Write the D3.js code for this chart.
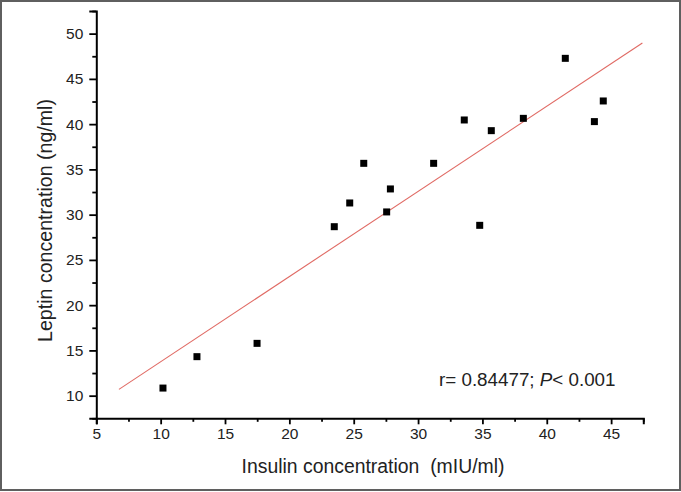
<!DOCTYPE html>
<html>
<head>
<meta charset="utf-8">
<script src="https://cdn.jsdelivr.net/npm/d3@7"></script>
<style>
html,body{margin:0;padding:0;background:#fff;}
svg{display:block;font-family:"Liberation Sans",Arial,sans-serif;}
</style>
</head>
<body>
<svg id="chart" width="681" height="492"></svg>
<script>
// Data
const insulin = [10.18, 12.82, 17.49, 23.49, 24.69, 25.78, 27.56, 27.85, 31.21, 33.59, 34.79, 35.69, 38.18, 41.44, 43.70, 44.39];
const leptin  = [10.84, 14.31, 15.78, 28.67, 31.29, 35.67, 30.30, 32.84, 35.67, 40.46, 28.82, 39.28, 40.64, 47.27, 40.28, 42.56];
const fitX = [6.76, 47.43];
const fitY = [10.70, 48.97];
const xTicks = [5, 10, 15, 20, 25, 30, 35, 40, 45];
const xMinor = [7.5, 12.5, 17.5, 22.5, 27.5, 32.5, 37.5, 42.5, 47.5];
const yTicks = [10, 15, 20, 25, 30, 35, 40, 45, 50];
const yMinor = [7.5, 12.5, 17.5, 22.5, 27.5, 32.5, 37.5, 42.5, 47.5, 52.5];
const xTitle = "Insulin concentration\u00a0\u00a0(mIU/ml)";
const yTitle = "Leptin concentration (ng/ml)";

const svg = d3.select("#chart");
const W = 681, H = 492;

// outer frame
svg.append("rect").attr("x", 1).attr("y", 1).attr("width", W - 2).attr("height", H - 3)
  .attr("fill", "#fff").attr("stroke", "#5f5f5f").attr("stroke-width", 2);

const x0 = 96.3, x1 = 643.3, y0 = 418.3, y1 = 11;
const x = d3.scaleLinear().domain([5, 47.5]).range([x0, x1]);
const y = d3.scaleLinear().domain([7.5, 52.5]).range([y0, y1]);

// regression line
svg.append("line")
  .attr("x1", x(fitX[0])).attr("y1", y(fitY[0]))
  .attr("x2", x(fitX[1])).attr("y2", y(fitY[1]))
  .attr("stroke", "#e06a64").attr("stroke-width", 1.1);

// points
const ms = 7;
svg.append("g").selectAll("rect").data(insulin.map((d, i) => [d, leptin[i]]))
  .join("rect")
  .attr("x", d => x(d[0]) - ms / 2).attr("y", d => y(d[1]) - ms / 2)
  .attr("width", ms).attr("height", ms).attr("fill", "#000");

// x axis
const gx = svg.append("g").attr("transform", `translate(0,${y0})`);
gx.call(d3.axisBottom(x).tickValues(xTicks).tickSize(6).tickPadding(4).tickFormat(d3.format("d")));
const gxm = svg.append("g").attr("transform", `translate(0,${y0})`);
gxm.call(d3.axisBottom(x).tickValues(xMinor).tickSize(3.5).tickFormat(""));
gxm.select(".domain").remove();

// y axis
const gy = svg.append("g").attr("transform", `translate(${x0},0)`);
gy.call(d3.axisLeft(y).tickValues(yTicks).tickSize(7).tickPadding(6).tickFormat(d3.format("d")));
const gym = svg.append("g").attr("transform", `translate(${x0},0)`);
gym.call(d3.axisLeft(y).tickValues(yMinor).tickSize(4).tickFormat(""));
gym.select(".domain").remove();

svg.selectAll(".domain").attr("stroke", "#000").attr("stroke-width", 2);
svg.selectAll(".tick line").attr("stroke", "#000").attr("stroke-width", 1.8);
svg.selectAll(".tick text").attr("font-size", 15.5).attr("fill", "#222")
  .attr("font-family", "'Liberation Sans', Arial, sans-serif");

// titles
svg.append("text").attr("x", 373).attr("y", 473)
  .attr("text-anchor", "middle").attr("font-size", 19.4).attr("fill", "#222")
  .text(xTitle);
svg.append("text").attr("transform", "translate(52,220.5) rotate(-90)")
  .attr("text-anchor", "middle").attr("font-size", 19.6).attr("fill", "#222")
  .text(yTitle);

// annotation
const ann = svg.append("text").attr("x", 439).attr("y", 386).attr("font-size", 18.8).attr("fill", "#222");
ann.append("tspan").text("r= 0.84477; ");
ann.append("tspan").attr("font-style", "italic").text("P");
ann.append("tspan").text("< 0.001");
</script>
</body>
</html>
